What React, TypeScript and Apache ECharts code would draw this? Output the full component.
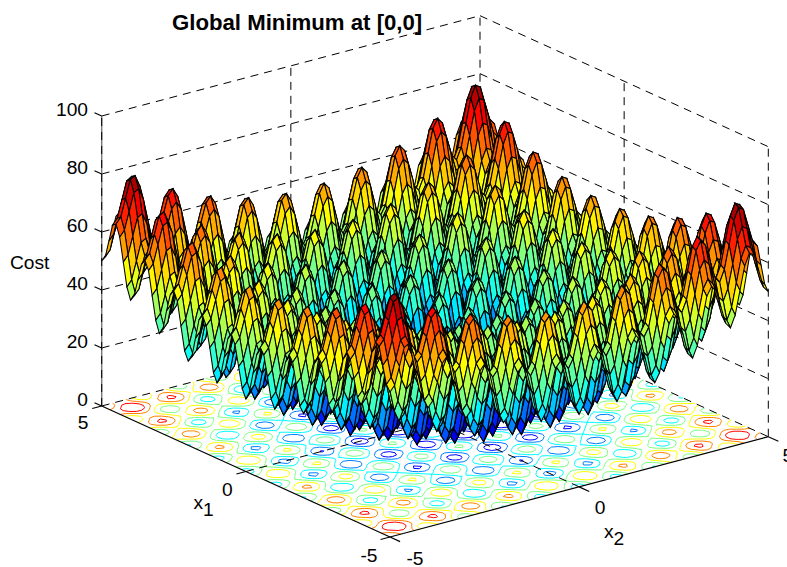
import React, { useEffect, useRef } from "react";
import * as echarts from "echarts";

const TITLE = "Global Minimum at [0,0]";
const Z_TICKS = [0, 20, 40, 60, 80, 100];
const X_TICKS = [-5, 0, 5];
const CONTOUR_LEVELS = [10, 20, 30, 40, 50, 60, 70, 80];
const COLOR_MAX = 80.5;
const GRID_STEP = 0.125;
const HALF = 40;

// Cost for |x1| (rows) and |x2| (columns) = 0, 0.125 ... 5; the surface is mirrored about both axes.
const R0 = [0,3,10,17,20,18,11,4,1,4,12,19,22,20,13,6,4,7,15,23,26,24,18,11,9,13,21,29,32,30,24,18,16,20,28,36,40,39,33,27,25];
const R1 = [3,6,13,20,23,21,14,7,4,7,15,22,25,23,16,9,7,10,18,26,29,27,21,14,12,16,24,32,35,33,27,21,19,23,31,39,43,42,36,30,28];
const R2 = [10,13,20,27,30,28,21,14,11,14,22,29,32,30,23,16,14,17,25,33,36,34,28,21,19,23,31,39,42,40,34,28,26,30,38,46,50,49,43,37,35];
const R3 = [17,20,27,34,37,35,28,21,18,21,29,36,39,37,30,23,21,24,32,40,43,41,35,28,26,30,38,46,49,47,41,35,33,37,45,53,57,56,50,44,42];
const R4 = [20,23,30,37,40,38,31,24,21,24,32,39,42,40,33,26,24,27,35,43,46,44,38,31,29,33,41,49,52,50,44,38,36,40,48,56,60,59,53,47,45];
const R5 = [18,21,28,35,38,36,29,22,19,22,30,37,40,38,31,24,22,25,33,41,44,42,36,29,27,31,39,47,50,48,42,36,34,38,46,54,58,57,51,45,43];
const R6 = [11,14,21,28,31,29,22,15,12,15,23,30,33,31,24,17,15,18,26,34,37,35,29,22,20,24,32,40,43,41,35,29,27,31,39,47,51,50,44,38,36];
const R7 = [4,7,14,21,24,22,15,8,5,8,16,23,26,24,17,10,8,11,19,27,30,28,22,15,13,17,25,33,36,34,28,22,20,24,32,40,44,43,37,31,29];
const R8 = [1,4,11,18,21,19,12,5,2,5,13,20,23,21,14,7,5,8,16,24,27,25,19,12,10,14,22,30,33,31,25,19,17,21,29,37,41,40,34,28,26];
const R10 = [12,15,22,29,32,30,23,16,13,16,24,31,34,32,25,18,16,19,27,35,38,36,30,23,21,25,33,41,44,42,36,30,28,32,40,48,52,51,45,39,37];
const R11 = [19,22,29,36,39,37,30,23,20,23,31,38,41,39,32,25,23,26,34,42,45,43,37,30,28,32,40,48,51,49,43,37,35,39,47,55,59,58,52,46,44];
const R12 = [22,25,32,39,42,40,33,26,23,26,34,41,44,42,35,28,26,29,37,45,48,46,40,33,31,35,43,51,54,52,46,40,38,42,50,58,62,61,55,49,47];
const R14 = [13,16,23,30,33,31,24,17,14,17,25,32,35,33,26,19,17,20,28,36,39,37,31,24,22,26,34,42,45,43,37,31,29,33,41,49,53,52,46,40,38];
const R15 = [6,9,16,23,26,24,17,10,7,10,18,25,28,26,19,12,10,13,21,29,32,30,24,17,15,19,27,35,38,36,30,24,22,26,34,42,46,45,39,33,31];
const R17 = [7,10,17,24,27,25,18,11,8,11,19,26,29,27,20,13,11,14,22,30,33,31,25,18,16,20,28,36,39,37,31,25,23,27,35,43,47,46,40,34,32];
const R18 = [15,18,25,32,35,33,26,19,16,19,27,34,37,35,28,21,19,22,30,38,41,39,33,26,24,28,36,44,47,45,39,33,31,35,43,51,55,54,48,42,40];
const R19 = [23,26,33,40,43,41,34,27,24,27,35,42,45,43,36,29,27,30,38,46,49,47,41,34,32,36,44,52,55,53,47,41,39,43,51,59,63,62,56,50,48];
const R20 = [26,29,36,43,46,44,37,30,27,30,38,45,48,46,39,32,30,33,41,49,52,50,44,37,35,39,47,55,58,56,50,44,42,46,54,62,66,65,59,53,51];
const R21 = [24,27,34,41,44,42,35,28,25,28,36,43,46,44,37,30,28,31,39,47,50,48,42,35,33,37,45,53,56,54,48,42,40,44,52,60,64,63,57,51,49];
const R24 = [9,12,19,26,29,27,20,13,10,13,21,28,31,29,22,15,13,16,24,32,35,33,27,20,18,22,30,38,41,39,33,27,25,29,37,45,49,48,42,36,34];
const R26 = [21,24,31,38,41,39,32,25,22,25,33,40,43,41,34,27,25,28,36,44,47,45,39,32,30,34,42,50,53,51,45,39,37,41,49,57,61,60,54,48,46];
const R27 = [29,32,39,46,49,47,40,33,30,33,41,48,51,49,42,35,33,36,44,52,55,53,47,40,38,42,50,58,61,59,53,47,45,49,57,65,69,68,62,56,54];
const R28 = [32,35,42,49,52,50,43,36,33,36,44,51,54,52,45,38,36,39,47,55,58,56,50,43,41,45,53,61,64,62,56,50,48,52,60,68,72,71,65,59,57];
const R29 = [30,33,40,47,50,48,41,34,31,34,42,49,52,50,43,36,34,37,45,53,56,54,48,41,39,43,51,59,62,60,54,48,46,50,58,66,70,69,63,57,55];
const R32 = [16,19,26,33,36,34,27,20,17,20,28,35,38,36,29,22,20,23,31,39,42,40,34,27,25,29,37,45,48,46,40,34,32,36,44,52,56,55,49,43,41];
const R34 = [28,31,38,45,48,46,39,32,29,32,40,47,50,48,41,34,32,35,43,51,54,52,46,39,37,41,49,57,60,58,52,46,44,48,56,64,68,67,61,55,53];
const R35 = [36,39,46,53,56,54,47,40,37,40,48,55,58,56,49,42,40,43,51,59,62,60,54,47,45,49,57,65,68,66,60,54,52,56,64,72,76,75,69,63,61];
const R36 = [40,43,50,57,60,58,51,44,41,44,52,59,62,60,53,46,44,47,55,63,66,64,58,51,49,53,61,69,72,70,64,58,56,60,68,76,80,79,73,67,65];
const R37 = [39,42,49,56,59,57,50,43,40,43,51,58,61,59,52,45,43,46,54,62,65,63,57,50,48,52,60,68,71,69,63,57,55,59,67,75,79,78,72,66,64];
const R38 = [33,36,43,50,53,51,44,37,34,37,45,52,55,53,46,39,37,40,48,56,59,57,51,44,42,46,54,62,65,63,57,51,49,53,61,69,73,72,66,60,58];
const R39 = [27,30,37,44,47,45,38,31,28,31,39,46,49,47,40,33,31,34,42,50,53,51,45,38,36,40,48,56,59,57,51,45,43,47,55,63,67,66,60,54,52];
const R40 = [25,28,35,42,45,43,36,29,26,29,37,44,47,45,38,31,29,32,40,48,51,49,43,36,34,38,46,54,57,55,49,43,41,45,53,61,65,64,58,52,50];

const COST_ROWS = [R0,R1,R2,R3,R4,R5,R6,R7,R8,R7,R10,R11,R12,R4,R14,R15,R7,R17,R18,R19,R20,R21,R5,R6,R24,R14,R26,R27,R28,R29,R21,R5,R32,R4,R34,R35,R36,R37,R38,R39,R40];

const FONT = '"Liberation Sans", Arial, sans-serif';
const FONT_SIZE = 19.2;

// Orthographic view of the box: [x1, x2, z] to page pixels.
function project(x1: number, x2: number, z: number): number[] {
  return [435 - 28.83 * x1 + 37.83 * x2, 421.35 - 13.1 * x1 - 10.03 * x2 - 2.9 * z];
}

function costAt(i: number, j: number): number {
  return COST_ROWS[Math.abs(i - HALF)][Math.abs(j - HALF)];
}
const coordOf = (k: number) => (k - HALF) * GRID_STEP;

function jet(t: number): string {
  const v = Math.max(0, Math.min(1, t));
  const ch = (c: number) => Math.round(255 * Math.max(0, Math.min(1, 1.5 - Math.abs(4 * v - c))));
  return `rgb(${ch(3)},${ch(2)},${ch(1)})`;
}

function buildFacets(): number[][] {
  const out: number[][] = [];
  for (let i = 2 * HALF; i >= 1; i--) for (let j = 2 * HALF; j >= 1; j--) out.push([i, j]);
  return out;
}

function buildContours(): number[][] {
  const segs: number[][] = [];
  const n = 2 * HALF;
  CONTOUR_LEVELS.forEach((lv) => {
    for (let i = 0; i < n; i++) {
      for (let j = 0; j < n; j++) {
        const corners = [[i, j], [i + 1, j], [i + 1, j + 1], [i, j + 1]];
        const pts: number[][] = [];
        for (let k = 0; k < 4; k++) {
          const a = corners[k];
          const b = corners[(k + 1) % 4];
          const za = costAt(a[0], a[1]);
          const zb = costAt(b[0], b[1]);
          if (za < lv !== zb < lv) {
            const t = (lv - za) / (zb - za);
            pts.push([coordOf(a[0] + (b[0] - a[0]) * t), coordOf(a[1] + (b[1] - a[1]) * t)]);
          }
        }
        if (pts.length >= 2) segs.push([pts[0][0], pts[0][1], pts[1][0], pts[1][1], lv]);
        if (pts.length === 4) segs.push([pts[2][0], pts[2][1], pts[3][0], pts[3][1], lv]);
      }
    }
  });
  return segs;
}

// [x1a, x2a, za, x1b, x2b, zb, style] with style 0 dashed, 1 solid, 2 grey axis
function buildFrame(): number[][] {
  const lo = X_TICKS[0];
  const hi = X_TICKS[X_TICKS.length - 1];
  const zTop = Z_TICKS[Z_TICKS.length - 1];
  const f: number[][] = [];
  Z_TICKS.forEach((z) => {
    f.push([hi, lo, z, hi, hi, z, 0]);
    f.push([hi, hi, z, lo, hi, z, 0]);
  });
  X_TICKS.forEach((t) => {
    if (t !== lo) f.push([hi, t, 0, hi, t, zTop, 0]);
    if (t !== hi) f.push([t, hi, 0, t, hi, zTop, 0]);
    if (t !== lo && t !== hi) {
      f.push([t, lo, 0, t, hi, 0, 0]);
      f.push([lo, t, 0, hi, t, 0, 0]);
    }
  });
  f.push([hi, lo, 0, hi, lo, zTop, 2]);
  f.push([hi, lo, 0, hi, lo, zTop, 0]);
  f.push([lo, lo, 0, hi, lo, 0, 1]);
  f.push([lo, lo, 0, lo, hi, 0, 1]);
  X_TICKS.forEach((t) => {
    f.push([t, lo, 0, t, lo - 0.25, 0, 1]);
    f.push([lo, t, 0, lo - 0.35, t, 0, 1]);
  });
  Z_TICKS.forEach((z) => f.push([hi, lo, z, hi + 0.25, lo, z, 1]));
  return f;
}

function textEl(text: string, x: number, y: number, align = "center", weight = "normal", size = FONT_SIZE) {
  return {
    type: "text",
    x,
    y,
    silent: true,
    z: 50,
    style: {
      text,
      fill: "#000",
      textAlign: align,
      textVerticalAlign: "middle",
      font: `${weight} ${size}px ${FONT}`,
    },
  };
}

function buildTexts() {
  const lo = X_TICKS[0];
  const hi = X_TICKS[X_TICKS.length - 1];
  const els: any[] = [];
  Z_TICKS.forEach((z) => {
    const p = project(hi, lo, z);
    els.push(textEl(String(z), p[0] - 13.7, p[1] - 6.5, "right"));
  });
  const x1Off: Record<number, number[]> = { [-5]: [-21, 18], 0: [-18.4, 18], 5: [-18.7, 16.5] };
  X_TICKS.forEach((t) => {
    const p = project(t, lo, 0);
    els.push(textEl(String(t), p[0] + x1Off[t][0], p[1] + x1Off[t][1]));
  });
  const x2Off: Record<number, number[]> = { [-5]: [25, 21], 0: [21, 20.5], 5: [19.5, 19] };
  X_TICKS.forEach((t) => {
    const p = project(lo, t, 0);
    els.push(textEl(String(t), p[0] + x2Off[t][0], p[1] + x2Off[t][1]));
  });
  els.push(textEl("Cost", 10, 262.5, "left"));
  els.push(textEl("x", 203, 502, "right"));
  els.push(textEl("1", 203, 509, "left"));
  els.push(textEl("x", 613.5, 531, "right"));
  els.push(textEl("2", 613.5, 538, "left"));
  els.push(textEl(TITLE, 172, 22, "left", "bold", 22.2));
  return els;
}

export default function App() {
  const ref = useRef<HTMLDivElement>(null);
  useEffect(() => {
    const chart = echarts.init(ref.current!, undefined, { renderer: "svg" });
    const coordPair = (api: any, x1: number, x2: number, z: number) => api.coord(project(x1, x2, z));
    const common = {
      type: "custom",
      coordinateSystem: "cartesian2d",
      silent: true,
      clip: false,
      progressive: 0,
      animation: false,
      encode: { x: 0, y: 1 },
    };
    const frameItem = (_: any, api: any) => {
      const a = coordPair(api, api.value(0), api.value(1), api.value(2));
      const b = coordPair(api, api.value(3), api.value(4), api.value(5));
      const s = api.value(6);
      return {
        type: "line",
        shape: { x1: a[0], y1: a[1], x2: b[0], y2: b[1] },
        style: {
          stroke: s === 2 ? "#777" : "#000",
          lineWidth: s === 2 ? 1.4 : s === 1 ? 1.2 : 1,
          lineDash: s === 0 ? [8, 6] : null,
          fill: null,
        },
      };
    };
    const contourItem = (_: any, api: any) => {
      const a = coordPair(api, api.value(0), api.value(1), 0);
      const b = coordPair(api, api.value(2), api.value(3), 0);
      return {
        type: "line",
        shape: { x1: a[0], y1: a[1], x2: b[0], y2: b[1] },
        style: { stroke: jet(api.value(4) / COLOR_MAX), lineWidth: 1, fill: null },
      };
    };
    const facetItem = (_: any, api: any) => {
      const i = api.value(0);
      const j = api.value(1);
      const cells = [[i, j], [i - 1, j], [i - 1, j - 1], [i, j - 1]];
      let sum = 0;
      const points = cells.map((c) => {
        const z = costAt(c[0], c[1]);
        sum += z;
        return coordPair(api, coordOf(c[0]), coordOf(c[1]), z);
      });
      return {
        type: "polygon",
        shape: { points },
        style: { fill: jet(sum / 4 / COLOR_MAX), stroke: "#000", lineWidth: 1.05 },
      };
    };
    chart.setOption({
      animation: false,
      backgroundColor: "#fff",
      grid: { left: 0, right: 0, top: 0, bottom: 0, show: false },
      xAxis: { type: "value", min: 0, max: 787, show: false },
      yAxis: { type: "value", min: 0, max: 567, inverse: true, show: false },
      series: [
        { ...common, z: 1, data: buildContours(), renderItem: contourItem },
        { ...common, z: 2, data: buildFrame(), renderItem: frameItem },
        { ...common, z: 3, data: buildFacets(), renderItem: facetItem },
      ],
      graphic: { elements: buildTexts() },
    });
    return () => chart.dispose();
  }, []);
  return <div ref={ref} style={{ position: "absolute", left: 0, top: 0, width: 787, height: 567 }} />;
}
